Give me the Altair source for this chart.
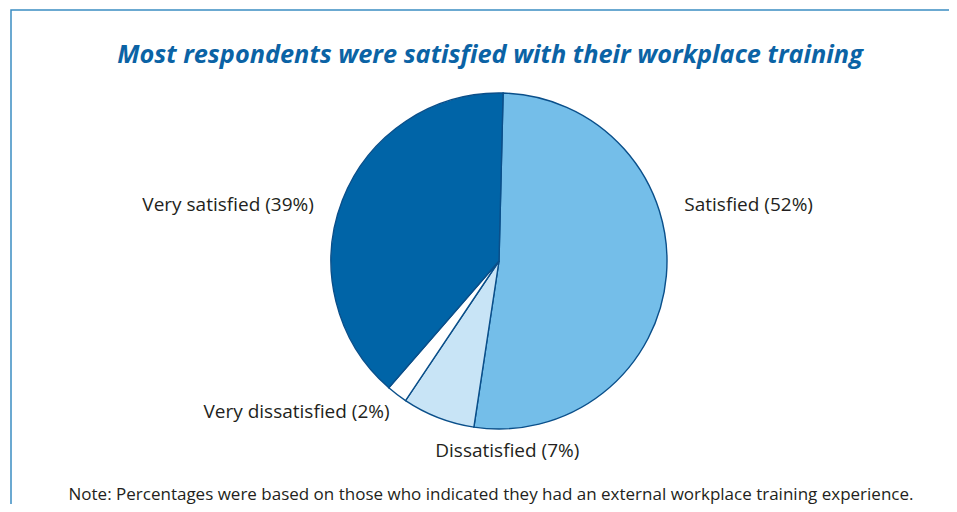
import math
import altair as alt
import pandas as pd

categories = ["Satisfied", "Dissatisfied", "Very dissatisfied", "Very satisfied"]
values = [52, 7, 2, 39]
labels = ["Satisfied (52%)", "Dissatisfied (7%)", "Very dissatisfied (2%)", "Very satisfied (39%)"]
colors = ["#74bee9", "#c8e4f6", "#ffffff", "#0064a7"]

title_text = "Most respondents were satisfied with their workplace training"
note_text = ("Note: Percentages were based on those who indicated they had an "
             "external workplace training experience.")

df = pd.DataFrame({
    "category": categories,
    "value": values,
    "label": labels,
    "order": list(range(len(categories))),
})

W, H = 941, 496
off = math.radians(1.4)
theta_scale = alt.Scale(domain=[0, 100], range=[off, off + 2 * math.pi])
CX, CY, R = 491, 253, 168
TXT = "#231f20"
FONT = "Open Sans"

base = alt.Chart(df)

pie = base.mark_arc(radius=R, stroke="#0a4f8a", strokeWidth=1.4).encode(
    theta=alt.Theta("value:Q", stack=True, scale=theta_scale),
    color=alt.Color("category:N",
                    scale=alt.Scale(domain=categories, range=colors),
                    legend=None),
    order=alt.Order("order:Q"),
    x=alt.value(CX),
    y=alt.value(CY),
)

lab_base = base.transform_window(
    cum="sum(value)", sort=[{"field": "order"}]
).transform_calculate(mid="datum.cum - datum.value / 2")


def label_layer(cat, align, dx, dy, radius=190):
    return lab_base.transform_filter(alt.datum.category == cat).mark_text(
        radius=radius, align=align, baseline="alphabetic", dx=dx, dy=dy,
        font=FONT, fontSize=19, color=TXT,
    ).encode(
        theta=alt.Theta("mid:Q", scale=theta_scale),
        text="label:N",
        x=alt.value(CX),
        y=alt.value(CY),
    )


l1 = label_layer("Satisfied", "left", 2, -66, radius=184)
l2 = label_layer("Dissatisfied", "center", 77, 19)
l3 = label_layer("Very dissatisfied", "right", 6, 6)
l4 = label_layer("Very satisfied", "right", -8, 19)

ann = pd.DataFrame({"title": [title_text], "note": [note_text]})
title = alt.Chart(ann).mark_text(
    font=FONT, fontSize=25.3, fontWeight="bold", fontStyle="italic",
    color="#0b63a5", align="center", baseline="alphabetic",
).encode(text="title:N", x=alt.value(482), y=alt.value(55))

note = alt.Chart(ann).mark_text(
    font=FONT, fontSize=17, color=TXT, align="center", baseline="alphabetic",
).encode(text="note:N", x=alt.value(483), y=alt.value(492))

border = alt.Chart(ann).mark_rect(
    fill="transparent", stroke="#3b8dc2", strokeWidth=1.5, clip=True,
).encode(x=alt.value(3), x2=alt.value(W + 30), y=alt.value(2), y2=alt.value(H + 30))

chart = alt.layer(border, pie, l1, l2, l3, l4, title, note).properties(
    width=W, height=H, padding=0, background="white",
    autosize=alt.AutoSizeParams(type="none"),
).configure_view(stroke="transparent", strokeWidth=0)

chart.save("out.html", embed_options={"renderer": "svg", "actions": False})
